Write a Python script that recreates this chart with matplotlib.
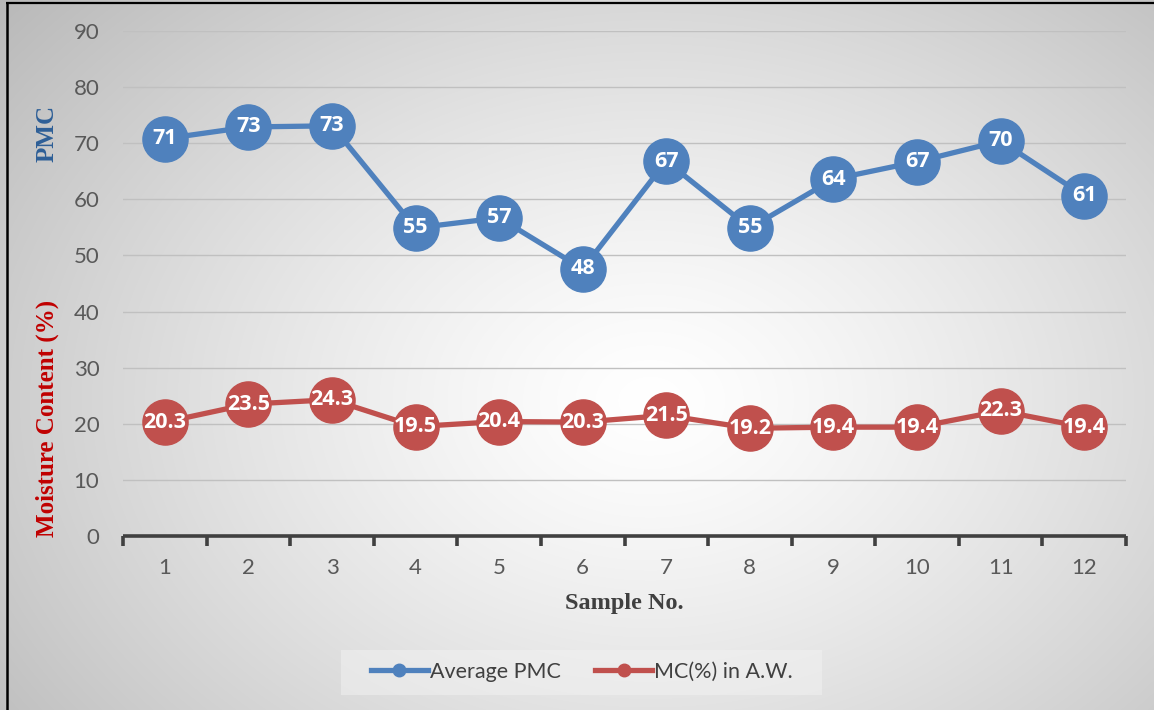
import numpy as np
import matplotlib
matplotlib.use("Agg")
import matplotlib.pyplot as plt
from matplotlib.lines import Line2D

samples = [1, 2, 3, 4, 5, 6, 7, 8, 9, 10, 11, 12]
pmc = [70.8, 72.9, 73.1, 54.9, 56.7, 47.6, 66.8, 54.9, 63.6, 66.7, 70.4, 60.6]
mc = [20.3, 23.5, 24.3, 19.5, 20.4, 20.3, 21.5, 19.2, 19.4, 19.4, 22.3, 19.4]
yticks = [0, 10, 20, 30, 40, 50, 60, 70, 80, 90]

W, H, DPI = 1154, 710, 100
fig = plt.figure(figsize=(W / DPI, H / DPI), dpi=DPI)

# radial gradient background
bg = fig.add_axes([0, 0, 1, 1], zorder=-10)
yy, xx = np.mgrid[0:H, 0:W]
cx, cy = 650, 400
r = np.sqrt(((xx - cx) / 760.0) ** 2 + ((yy - cy) / 560.0) ** 2)
val = 1.0 - 0.24 * np.clip(r, 0, 1.2) ** 1.3
img = np.dstack([val, val, val])
bg.imshow(img, extent=[0, W, H, 0], aspect="auto", interpolation="bilinear")
bg.set_xlim(0, W)
bg.set_ylim(H, 0)
bg.axis("off")
# partial frame (left and top)
bg.plot([6.5, 6.5], [2, H], color="black", lw=1.8, solid_capstyle="butt")
bg.plot([6, W], [2.5, 2.5], color="black", lw=1.6, solid_capstyle="butt")
# legend background box
bg.add_patch(plt.Rectangle((341, 650), 481, 45, color="#f2f2f2", alpha=0.5, lw=0))

ax = fig.add_axes([123 / W, 1 - 536 / H, (1126 - 123) / W, (536 - 31) / H])
ax.patch.set_alpha(0)
ax.set_xlim(0.5, 12.5)
ax.set_ylim(0, 90)

for s in ["top", "right", "left"]:
    ax.spines[s].set_visible(False)
ax.spines["bottom"].set_color("#404040")
ax.spines["bottom"].set_linewidth(2.6)
ax.spines["bottom"].set_capstyle("butt")

ax.set_yticks(yticks)
ax.yaxis.grid(True, color="#c0c0c0", lw=1.0)
ax.set_axisbelow(True)
ax.tick_params(axis="y", length=0, pad=17, labelsize=16, labelcolor="#595959")
for t in ax.get_yticklabels():
    t.set_fontfamily("Lato")

ax.set_xticks(samples)
ax.set_xticklabels([str(s) for s in samples], fontfamily="Lato", fontsize=16, color="#595959")
ax.tick_params(axis="x", length=0, pad=16)
# boundary ticks
ax.set_xticks(np.arange(0.5, 13, 1.0), minor=True)
ax.tick_params(axis="x", which="minor", length=7, width=2.6, color="#404040", direction="out")

blue = "#4f81bd"
red = "#c0504d"
ms = 32.5
ax.plot(samples, pmc, color=blue, lw=3.8, marker="o", ms=ms, mec=blue, mfc=blue, clip_on=False, zorder=3)
ax.plot(samples, mc, color=red, lw=3.8, marker="o", ms=ms, mec=red, mfc=red, clip_on=False, zorder=3)

for x, v in zip(samples, pmc):
    ax.text(x, v, f"{v:.0f}", ha="center", va="center", color="white", fontsize=15.5,
            fontweight="bold", fontfamily="Open Sans", zorder=5)
for x, v in zip(samples, mc):
    ax.text(x, v, f"{v:.1f}", ha="center", va="center", color="white", fontsize=15.5,
            fontweight="bold", fontfamily="Open Sans", zorder=5)

# axis titles
fig.text(47 / W, 1 - 133 / H, "PMC", rotation=90, ha="center", va="center",
         fontfamily="Liberation Serif", fontweight="bold", fontsize=18, color="#2e5f97")
fig.text(47 / W, 1 - 418 / H, "Moisture Content (%)", rotation=90, ha="center", va="center",
         fontfamily="Liberation Serif", fontweight="bold", fontsize=18, color="#c00000")
fig.text(624 / W, 1 - 603 / H, "Sample No.", ha="center", va="center",
         fontfamily="Liberation Serif", fontweight="bold", fontsize=17.5, color="#404040")

handles = [
    Line2D([], [], color=blue, lw=3.8, marker="o", ms=9, label="Average PMC"),
    Line2D([], [], color=red, lw=3.8, marker="o", ms=9, label="MC(%) in A.W."),
]
leg = fig.legend(handles=handles, loc="center", bbox_to_anchor=(582 / W, 1 - 672 / H),
                 ncol=2, frameon=False, handlelength=2.65, handletextpad=0.1,
                 columnspacing=1.6, prop={"family": "Lato", "size": 15.5})
for t in leg.get_texts():
    t.set_color("#404040")

fig.savefig("out.png", dpi=DPI)
